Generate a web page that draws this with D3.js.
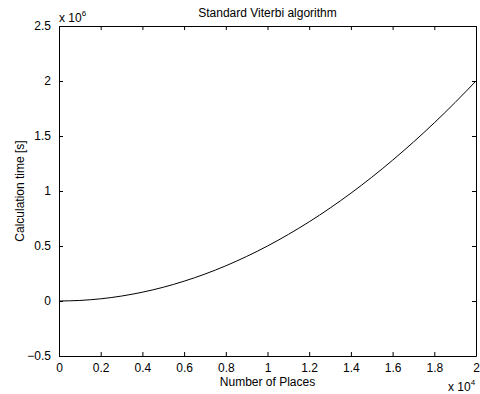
<!DOCTYPE html>
<html>
<head>
<meta charset="utf-8">
<script src="https://cdn.jsdelivr.net/npm/d3@7"></script>
<style>
  html, body { margin: 0; padding: 0; background: #fff; }
  svg text { font-family: "Liberation Sans", Arial, Helvetica, sans-serif; fill: #000; }
</style>
</head>
<body>
<svg id="chart" width="480" height="394"></svg>
<script>
// Number of places (x) and calculation time in units of 1e6 (y)
const places = [0, 1000, 2000, 3000, 4000, 5000, 6000, 7000, 8000, 9000, 10000,
                11000, 12000, 13000, 14000, 15000, 16000, 17000, 18000, 19000, 20000];
const calcTime = [0, 0.005, 0.02, 0.045, 0.08, 0.125, 0.18, 0.245, 0.32, 0.405, 0.5,
                  0.605, 0.72, 0.845, 0.98, 1.125, 1.28, 1.445, 1.62, 1.805, 2.0];

const xTicks = [0, 0.2, 0.4, 0.6, 0.8, 1, 1.2, 1.4, 1.6, 1.8, 2];
const yTicks = [-0.5, 0, 0.5, 1, 1.5, 2, 2.5];

const titleText = "Standard Viterbi algorithm";
const xLabel = "Number of Places";
const yLabel = "Calculation time [s]";

const svg = d3.select("#chart");
const plotL = 59, plotR = 476, plotT = 26, plotB = 356;

const x = d3.scaleLinear().domain([0, 2]).range([plotL, plotR]);
const y = d3.scaleLinear().domain([-0.5, 2.5]).range([plotB, plotT]);

const fmt = v => (v < 0 ? "\u2212" : "") + String(Math.abs(v));
const fs = "12px";

// axes box with inward ticks on all sides
svg.append("g").attr("transform", `translate(0,${plotB})`)
  .call(d3.axisBottom(x).tickValues(xTicks).tickSizeInner(-4).tickSizeOuter(0).tickPadding(7).tickFormat(fmt))
  .call(g => g.selectAll("text").style("font-size", fs).attr("dy", "0.71em"));
svg.append("g").attr("transform", `translate(0,${plotT})`)
  .call(d3.axisTop(x).tickValues(xTicks).tickSizeInner(-4).tickSizeOuter(0).tickFormat(""));
svg.append("g").attr("transform", `translate(${plotL},0)`)
  .call(d3.axisLeft(y).tickValues(yTicks).tickSizeInner(-4).tickSizeOuter(0).tickPadding(8).tickFormat(fmt))
  .call(g => g.selectAll("text").style("font-size", fs));
svg.append("g").attr("transform", `translate(${plotR},0)`)
  .call(d3.axisRight(y).tickValues(yTicks).tickSizeInner(-4).tickSizeOuter(0).tickFormat(""));

svg.selectAll(".domain").attr("stroke", "#000").attr("stroke-width", 1);
svg.selectAll(".tick line").attr("stroke", "#000");

// the curve
const line = d3.line()
  .x((d, i) => x(places[i] / 1e4))
  .y(d => y(d))
  .curve(d3.curveMonotoneX);
svg.append("path")
  .datum(calcTime)
  .attr("fill", "none")
  .attr("stroke", "#000")
  .attr("stroke-width", 1)
  .attr("d", line);

// title and labels
svg.append("text").attr("x", (plotL + plotR) / 2).attr("y", 17)
  .attr("text-anchor", "middle").style("font-size", fs).text(titleText);
svg.append("text").attr("x", (plotL + plotR) / 2).attr("y", 386)
  .attr("text-anchor", "middle").style("font-size", fs).text(xLabel);
svg.append("text").attr("transform", `translate(24,${(plotT + plotB) / 2}) rotate(-90)`)
  .attr("text-anchor", "middle").style("font-size", fs).text(yLabel);

// exponent multipliers
const e6 = svg.append("text").attr("x", plotL).attr("y", 22).style("font-size", fs);
e6.append("tspan").text("x 10");
e6.append("tspan").attr("dy", -6).style("font-size", "8px").text("6");
const e4 = svg.append("text").attr("x", 448).attr("y", 391).style("font-size", fs);
e4.append("tspan").text("x 10");
e4.append("tspan").attr("dy", -6).style("font-size", "8px").text("4");
</script>
</body>
</html>
